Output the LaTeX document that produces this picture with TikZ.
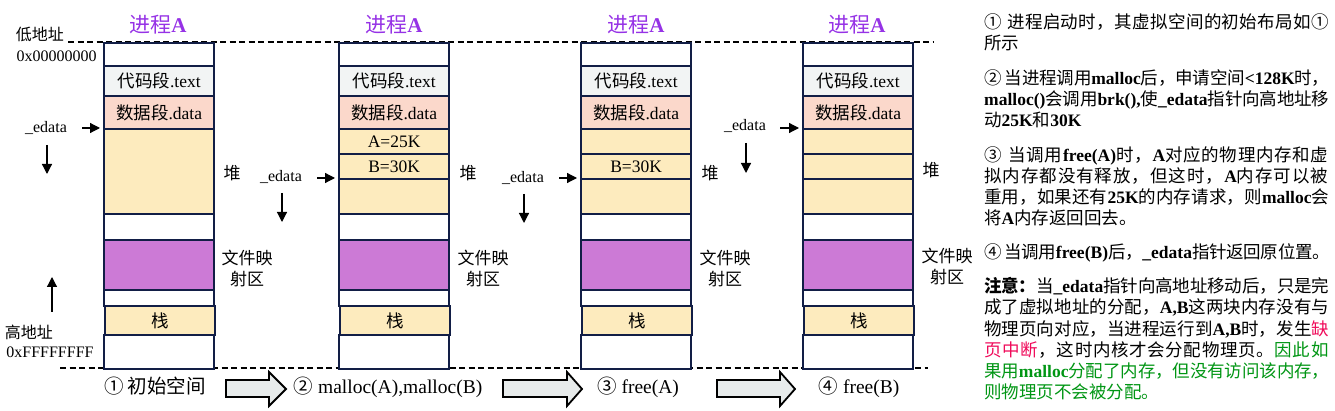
\documentclass[tikz,border=0pt]{standalone}
\usepackage{fontspec}
\setmainfont{Liberation Serif}
\newfontfamily\cjk{Noto Sans CJK SC}
\usetikzlibrary{arrows.meta}
\definecolor{navy}{RGB}{18,30,70}
\definecolor{codefill}{RGB}{242,244,244}
\definecolor{datafill}{RGB}{251,216,203}
\definecolor{heapfill}{RGB}{253,235,190}
\definecolor{mmapfill}{RGB}{204,122,214}
\definecolor{titlepurple}{RGB}{150,50,230}
\definecolor{warnred}{RGB}{240,10,90}
\definecolor{notegreen}{RGB}{0,150,20}
\definecolor{arrowgray}{RGB}{231,235,235}
% CJK helpers
\let\zhend\relax
\def\zhloop#1{\ifx\zhend#1\else#1\hskip 0pt plus 1pt minus 0.3pt\expandafter\zhloop\fi}
\newcommand\zh[1]{{\cjk\mdseries#1}}
\newcommand\zj[1]{{\cjk\mdseries\zhloop#1\zhend}}
\newcommand\zjb[1]{{\cjk\bfseries\zhloop#1\zhend}}

\newcommand\memcol[2]{%
  \node[seg, minimum height=23pt] (#1top) at (#2,42) {};
  \node[seg, fill=codefill, minimum height=30pt] (#1text) at (#2,65) {\zh{代码段}.text};
  \node[seg, fill=datafill, minimum height=33pt] (#1data) at (#2,95) {\zh{数据段}.data};
  \node[seg, minimum height=26pt] (#1gapa) at (#2,213) {};
  \node[seg, fill=mmapfill, minimum height=50pt] (#1mmap) at (#2,239) {};
  \node[seg, minimum height=16pt] (#1gapb) at (#2,289) {};
  \node[seg, minimum height=34pt] (#1bot) at (#2,334) {};
  \node[seg, fill=heapfill, minimum height=29pt] (#1stack) at (#2+1,305) {\zh{栈}};
}
\newcommand\hollowarr[3]{\draw[harrow] (#1,380) -- (#2,380) -- (#2,372) -- (#3,389) -- (#2,406) -- (#2,397) -- (#1,397) -- cycle;}

\begin{document}
\begin{tikzpicture}[x=1pt,y=-1pt,
  seg/.style={draw=navy, line width=2.2pt, minimum width=110pt, anchor=north west, inner sep=0pt, fill=white, font=\fontsize{17.5}{20}\selectfont},
  ttl/.style={anchor=base, inner sep=0pt, text=titlepurple, font=\fontsize{21}{24}\selectfont\bfseries},
  lbl/.style={anchor=base, inner sep=0pt, font=\fontsize{16}{19}\selectfont},
  elbl/.style={anchor=base, inner sep=0pt, font=\fontsize{16}{19}\selectfont},
  sidelbl/.style={inner sep=0pt, align=center, font=\fontsize{17}{21}\selectfont},
  captxt/.style={anchor=base, inner sep=0pt, font=\fontsize{19.5}{22}\selectfont},
  rt/.style={anchor=base west, inner sep=0pt, font=\fontsize{17.5}{21}\selectfont\bfseries},
  arr/.style={line width=1.2pt, -{Triangle[length=10pt,width=10pt]}},
  dashline/.style={line width=1.6pt, dash pattern=on 6pt off 3.5pt},
  harrow/.style={draw=black, line width=1.8pt, fill=arrowgray, line join=miter}
]
\fill[white] (0,0) rectangle (1335,411);
\useasboundingbox (0,0) rectangle (1335,411);

% boundary lines
\draw[dashline] (68,42) -- (934,42);
\draw[dashline] (60,368) -- (928,368);

% column 1
\memcol{c1}{103}
\node[seg, fill=heapfill, minimum height=85pt] (c1heap) at (103,128) {};
% column 2
\memcol{c2}{338}
\node[seg, fill=heapfill, minimum height=25pt] (c2A) at (338,128) {A=25K};
\node[seg, fill=heapfill, minimum height=25pt] (c2B) at (338,153) {B=30K};
\node[seg, fill=heapfill, minimum height=35pt] (c2heap) at (338,178) {};
% column 3
\memcol{c3}{580}
\node[seg, fill=heapfill, minimum height=25pt] (c3A) at (580,128) {};
\node[seg, fill=heapfill, minimum height=25pt] (c3B) at (580,153) {B=30K};
\node[seg, fill=heapfill, minimum height=35pt] (c3heap) at (580,178) {};
% column 4
\memcol{c4}{802}
\node[seg, fill=heapfill, minimum height=25pt] (c4A) at (802,128) {};
\node[seg, fill=heapfill, minimum height=25pt] (c4B) at (802,153) {};
\node[seg, fill=heapfill, minimum height=35pt] (c4heap) at (802,178) {};

% titles
\node[ttl] (t1) at (158,33) {\zh{进程}A};
\node[ttl] (t2) at (394,33) {\zh{进程}A};
\node[ttl] (t3) at (636,33) {\zh{进程}A};
\node[ttl] (t4) at (857,33) {\zh{进程}A};

% address labels
\node[lbl] (lo) at (40,41) {\zh{低地址}};
\node[lbl] (lohex) at (56.5,62) {0x00000000};
\node[lbl] (hi) at (29,338) {\zh{高地址}};
\node[lbl] (hihex) at (50,357) {0xFFFFFFFF};
\coordinate (upfoot) at (52,312);
\draw[arr] (upfoot) -- ++(0,-35);

% _edata pointers
\node[elbl] (e0) at (46,133) {\_edata};
\draw[arr] (c1heap.north west) ++(-21,0) -- ++(18,0);
\draw[arr] (e0.base) ++(1,12) -- ++(0,29);
\node[elbl] (e1) at (281,182) {\_edata};
\draw[arr] (c2heap.north west) ++(-21,0) -- ++(18,0);
\draw[arr] (e1.base) ++(1,11) -- ++(0,29);
\node[elbl] (e2) at (523,183) {\_edata};
\draw[arr] (c3heap.north west) ++(-21,0) -- ++(18,0);
\draw[arr] (e2.base) ++(1,11) -- ++(0,29);
\node[elbl] (e3) at (745,131) {\_edata};
\draw[arr] (c4A.north west) ++(-22,0) -- ++(19,0);
\draw[arr] (e3.base) ++(1,12) -- ++(0,30);

% side labels
\node[sidelbl] (h1) at (232,173) {\zh{堆}};
\node[sidelbl] (h2) at (468,173) {\zh{堆}};
\node[sidelbl] (h3) at (710,173) {\zh{堆}};
\node[sidelbl] (h4) at (931,170) {\zh{堆}};
\node[sidelbl] (m1) at (247,268) {\zh{文件映}\\\zh{射区}};
\node[sidelbl] (m2) at (483,268) {\zh{文件映}\\\zh{射区}};
\node[sidelbl] (m3) at (725,268) {\zh{文件映}\\\zh{射区}};
\node[sidelbl] (m4) at (947,266) {\zh{文件映}\\\zh{射区}};

% captions and step arrows
\node[captxt] (k1) at (155,393) {\zh{① 初始空间}};
\node[captxt] (k2) at (388,393) {\zh{②} malloc(A),malloc(B)};
\node[captxt] (k3) at (638,393) {\zh{③} free(A)};
\node[captxt] (k4) at (859,393) {\zh{④} free(B)};
\hollowarr{226}{269}{286}
\hollowarr{503}{567}{582}
\hollowarr{717}{780}{795}

% explanation text
\node[rt] (r1) at (984,29) {\hbox to 345pt{\zj{①} \zj{进程启动时，其虚拟空间的初始布局如①}}};
\node[rt] (r2) at (984,50) {\zh{所示}};
\node[rt] (r3) at (984,85) {\hbox to 345pt{\zj{②} \zj{当进程调用}malloc\zj{后，申请空间}<128K\zj{时，}}};
\node[rt] (r4) at (984,106) {\hbox to 345pt{malloc()\zj{会调用}brk(),\zj{使}\_edata\zj{指针向高地址移}}};
\node[rt] (r5) at (984,127) {\zh{动}25K\zh{和}30K};
\node[rt] (r6) at (984,162) {\hbox to 345pt{\zj{③} \zj{当调用}free(A)\zj{时，}A\zj{对应的物理内存和虚}}};
\node[rt] (r7) at (984,183) {\hbox to 345pt{\zj{拟内存都没有释放，但这时，}A\zj{内存可以被}}};
\node[rt] (r8) at (984,204) {\hbox to 345pt{\zj{重用，如果还有}25K\zj{的内存请求，则}malloc\zj{会}}};
\node[rt] (r9) at (984,225) {\zh{将}A\zh{内存返回回去。}};
\node[rt] (r10) at (984,259) {\hbox to 345pt{\zj{④} \zj{当调用}free(B)\zj{后，}\_edata\zj{指针返回原位置。}}};
\node[rt] (r11) at (984,293) {\hbox to 345pt{\zjb{注意：}\zj{当}\_edata\zj{指针向高地址移动后，只是完}}};
\node[rt] (r12) at (984,314) {\hbox to 345pt{\zj{成了虚拟地址的分配，}A,B\zj{这两块内存没有与}}};
\node[rt] (r13) at (984,335) {\hbox to 345pt{\zj{物理页向对应，当进程运行到}A,B\zj{时，发生}\textcolor{warnred}{\zh{缺}}}};
\node[rt] (r14) at (984,356) {\hbox to 345pt{\textcolor{warnred}{\zj{页中断}}\zj{，这时内核才会分配物理页。}\textcolor{notegreen}{\zj{因此如}}}};
\node[rt] (r15) at (984,377) {\hbox to 345pt{\color{notegreen}\zj{果用}malloc\zj{分配了内存，但没有访问该内存，}}};
\node[rt] (r16) at (984,398) {\color{notegreen}\zh{则物理页不会被分配。}};
\end{tikzpicture}
\end{document}
